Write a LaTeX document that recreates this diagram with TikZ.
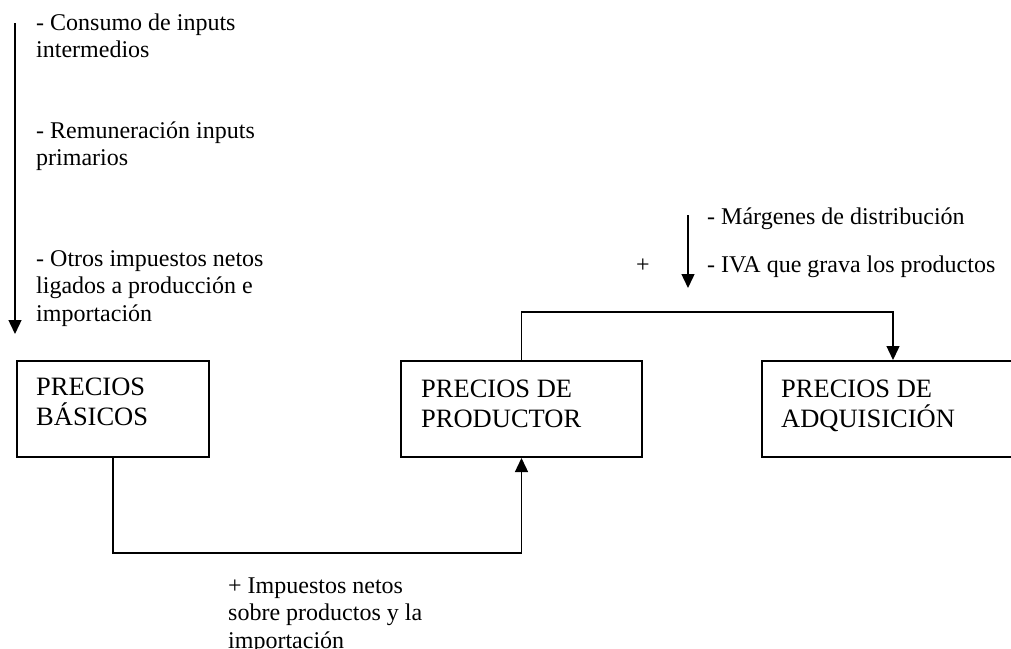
\documentclass[tikz,border=0pt]{standalone}
\usepackage{fontspec}
\setmainfont{Liberation Serif}
\usetikzlibrary{arrows.meta,calc}
\tikzset{
  lbl/.style={anchor=base west, inner sep=0pt, align=left, font=\fontsize{24}{27.3}\selectfont},
  boxtxt/.style={anchor=base west, inner sep=0pt, align=left, font=\fontsize{26.5}{30.5}\selectfont},
  pbox/.style={draw, line width=2pt, anchor=north west, inner sep=0pt, minimum height=96pt},
  conn/.style={line width=1.4pt},
  arr/.style={line width=1.4pt, -{Triangle[length=14pt,width=13pt]}}
}
\begin{document}
\begin{tikzpicture}[x=1pt,y=-1pt]
\clip (0,0) rectangle (1011,648);
\fill[white] (0,0) rectangle (1011,648);
% left arrow and texts (anchors are on the last line's baseline)
\coordinate (la0) at (15,23);
\coordinate (la1) at (15,334);
\draw[arr] (la0) -- (la1);
\node[lbl] (t1) at (36,57.5) {- Consumo de inputs\\intermedios};
\node[lbl] (t2) at (36,165.5) {- Remuneración inputs\\primarios};
\node[lbl] (t3) at (36,321) {- Otros impuestos netos\\ligados a producción e\\importación};
% boxes
\node[pbox, minimum width=192pt] (b1) at (16,360) {};
\node[pbox, minimum width=241pt] (b2) at (400,360) {};
\node[pbox, minimum width=262pt] (b3) at (761,360) {};
\node[boxtxt] (b1t) at ($(b1.north west)+(20,65.5)$) {PRECIOS\\BÁSICOS};
\node[boxtxt] (b2t) at ($(b2.north west)+(21,67.5)$) {PRECIOS DE\\PRODUCTOR};
\node[boxtxt] (b3t) at ($(b3.north west)+(20,67.5)$) {PRECIOS DE\\ADQUISICIÓN};
% bottom connector
\draw[arr] (b1.south) -- ++(0,95) -| (b2.south);
\node[lbl] (t4) at (228,648) {+ Impuestos netos\\sobre productos y la\\importación};
% top connector
\coordinate (tj) at (688,312);
\draw[conn] (b2.north) |- (tj);
\draw[arr] (tj) -| (b3.north);
\coordinate (ta0) at (688,215);
\coordinate (ta1) at (688,288);
\draw[arr] (ta0) -- (ta1);
\node[lbl] (tp) at (707,272) {- Márgenes de distribución\\[20.7pt]- IVA que grava los productos};
\node[lbl, anchor=base] (plus) at (643,272) {+};
\end{tikzpicture}
\end{document}
